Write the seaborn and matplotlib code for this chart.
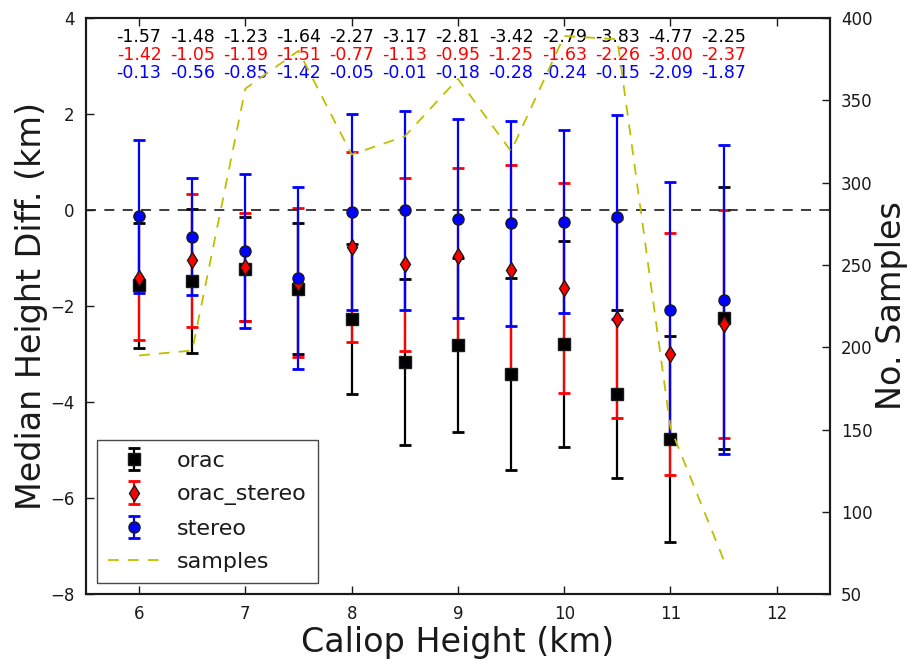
import numpy as np
import pandas as pd
import seaborn as sns
from matplotlib import pyplot as plt

heights = [6.0, 6.5, 7.0, 7.5, 8.0, 8.5, 9.0, 9.5, 10.0, 10.5, 11.0, 11.5]

orac_med = [-1.57, -1.48, -1.23, -1.64, -2.27, -3.17, -2.81, -3.42, -2.79, -3.83, -4.77, -2.25]
orac_err = [1.30, 1.49, 1.08, 1.36, 1.57, 1.73, 1.82, 2.00, 2.15, 1.75, 2.14, 2.73]

orac_stereo_med = [-1.42, -1.05, -1.19, -1.51, -0.77, -1.13, -0.95, -1.25, -1.63, -2.26, -3.00, -2.37]
orac_stereo_err = [1.29, 1.38, 1.13, 1.55, 1.97, 1.80, 1.83, 2.19, 2.19, 2.07, 2.52, 2.37]

stereo_med = [-0.13, -0.56, -0.85, -1.42, -0.05, -0.01, -0.18, -0.28, -0.24, -0.15, -2.09, -1.87]
stereo_err = [1.59, 1.22, 1.60, 1.89, 2.04, 2.07, 2.07, 2.13, 1.91, 2.12, 2.67, 3.22]

samples = [195, 198, 357, 380, 317, 328, 363, 319, 389, 387, 151, 71]

BLACK = '#000000'
RED = '#ff0000'
BLUE = '#0000ff'
YELLOW = '#bfbf00'

sns.set_theme(style="ticks", context="paper")
plt.rcParams['font.family'] = ['DejaVu Sans']
plt.rcParams['text.color'] = 'k'
plt.rcParams['axes.labelcolor'] = 'k'
plt.rcParams['xtick.color'] = 'k'
plt.rcParams['ytick.color'] = 'k'

fig = plt.figure(figsize=(9.14, 6.61), dpi=100)
ax = fig.add_axes([0.094, 0.101, 0.814, 0.872])
ax2 = ax.twinx()

series = [
    ('orac', orac_med, orac_err, BLACK, 's', 8),
    ('orac_stereo', orac_stereo_med, orac_stereo_err, RED, 'd', 8),
    ('stereo', stereo_med, stereo_err, BLUE, 'o', 8),
]
handles = []
for name, med, err, col, mk, ms in series:
    h = ax.errorbar(heights, med, yerr=err, fmt=mk, color=col, ecolor=col,
                    markerfacecolor=col, markeredgecolor='k', markersize=ms,
                    elinewidth=1.6, capsize=4.5, capthick=2, label=name)
    handles.append(h)

ax.axhline(0, color='k', ls='--', lw=1.2, dashes=(6, 5))

# row of median values at the top
rows = [(orac_med, BLACK, 0.967), (orac_stereo_med, RED, 0.936), (stereo_med, BLUE, 0.905)]
for vals, col, yy in rows:
    for x, v in zip(heights, vals):
        ax.text(x, yy, '{0:.2f}'.format(v), color=col, fontsize=12.5,
                ha='center', va='center', transform=ax.get_xaxis_transform())

df = pd.DataFrame({'height': heights, 'samples': samples})
sns.lineplot(data=df, x='height', y='samples', ax=ax2, color=YELLOW, lw=1.3,
             linestyle='--', label='samples', legend=False)
ax2.lines[0].set_dashes((6, 5))

ax.set_xlim(5.5, 12.5)
ax.set_ylim(-8, 4)
ax2.set_ylim(50, 400)
ax.set_xticks(range(6, 13))
ax.set_yticks(range(-8, 5, 2))
ax2.set_yticks(range(50, 401, 50))

ax.set_xlabel('Caliop Height (km)', fontsize=24, labelpad=2)
ax.set_ylabel('Median Height Diff. (km)', fontsize=24, labelpad=2)
ax2.set_ylabel('No. Samples', fontsize=24, labelpad=2)
ax2.set_xlabel('')

ax.tick_params(axis='both', direction='in', labelsize=12, length=6, width=1, top=True, pad=8)
ax2.tick_params(axis='y', direction='in', labelsize=12, length=6, width=1, pad=8)
for a in (ax, ax2):
    for s in a.spines.values():
        s.set_linewidth(1.5)
        s.set_color('k')

handles.append(ax2.lines[0])
leg = ax2.legend(handles=handles, labels=['orac', 'orac_stereo', 'stereo', 'samples'],
                 loc='lower left', bbox_to_anchor=(0.0, 0.0), fontsize=16, numpoints=1,
                 frameon=True, fancybox=False, edgecolor='k', handlelength=2.3,
                 borderpad=0.5, labelspacing=0.6)
leg.get_frame().set_linewidth(1.0)

fig.savefig('out.png', dpi=100)
plt.close(fig)
